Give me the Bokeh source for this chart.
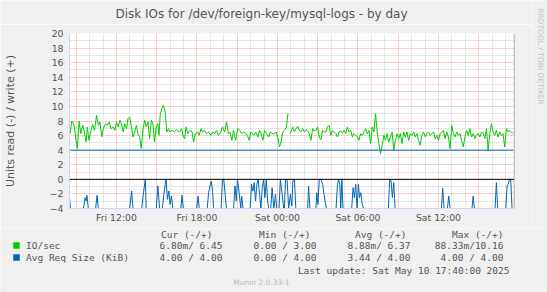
import numpy as np
import pandas as pd
from bokeh.plotting import figure
from bokeh.layouts import column, row
from bokeh.models import (ColumnDataSource, Range1d, FixedTicker, DatetimeTickFormatter,
                          Grid, Span, Label)
from bokeh.embed import file_html
from bokeh.resources import INLINE

# ------------------------------------------------------------------ data
TITLE = "Disk IOs for /dev/foreign-key/mysql-logs - by day"
Y_LABEL = "Units read (-) / write (+)"
GRAPH_START = "2025-05-09 08:30"
GRAPH_END = "2025-05-10 17:40"

x_tick_times = ["2025-05-09 12:00", "2025-05-09 18:00", "2025-05-10 00:00",
                "2025-05-10 06:00", "2025-05-10 12:00"]
y_ticks = [-4, -2, 0, 2, 4, 6, 8, 10, 12, 14, 16, 18, 20]

# IO/sec, write (+): first stretch, minutes after GRAPH_START
io_write_a_min = [3, 10, 21, 29, 35, 43, 50, 59, 65, 74, 80, 87, 95, 103, 112, 121, 129, 136,
                  144, 151, 161, 169, 178, 185, 195, 203, 210, 218, 225, 232, 240, 247, 255,
                  262, 269, 277, 284, 292, 299, 306, 314, 321, 329, 336, 343, 351, 358, 366,
                  373, 380, 388, 395, 400, 406, 413, 420, 428, 435, 443, 450, 459, 469, 477,
                  484, 492, 502, 509, 515, 521, 529, 539, 548, 555, 563, 573, 580, 588, 595,
                  604, 613, 622, 632, 640, 650, 657, 666, 677, 684, 694, 702, 711, 717, 726,
                  733, 743, 752, 761, 770, 780, 788, 795, 804, 810, 817, 825, 832, 843, 850,
                  857, 865, 872, 881, 891, 899, 906, 917, 924, 931, 939, 946, 954, 962, 970, 977]
io_write_a = [6.27, 8.00, 7.41, 5.35, 4.21, 8.00, 6.27, 7.41, 6.72, 5.12,
              7.18, 5.35, 6.50, 7.55, 6.72, 8.78, 7.41, 7.87, 5.81, 6.95,
              7.64, 7.41, 7.87, 6.95, 7.18, 6.72, 7.87, 7.18, 8.10, 7.64,
              6.50, 7.64, 6.95, 8.33, 8.55, 7.18, 5.81, 6.50, 7.41, 6.27,
              5.81, 4.21, 6.95, 8.10, 7.18, 7.87, 5.58, 8.10, 7.64, 5.12,
              7.18, 7.64, 6.04, 9.01, 9.70, 10.15, 9.24, 6.50, 6.95, 6.50,
              6.72, 6.50, 6.82, 6.63, 6.50, 6.95, 5.81, 5.58, 7.18, 6.27,
              6.72, 6.50, 5.12, 6.27, 6.50, 6.04, 6.95, 6.50, 6.72, 6.27,
              6.50, 6.04, 6.50, 6.27, 6.72, 6.04, 6.50, 7.18, 6.50, 7.87,
              6.27, 6.50, 5.35, 6.72, 5.35, 6.95, 6.72, 6.27, 6.50, 6.27,
              6.04, 5.35, 6.50, 6.27, 6.04, 6.50, 5.81, 6.72, 6.27, 5.35,
              6.72, 6.27, 5.81, 6.50, 6.27, 6.27, 6.50, 5.81, 4.44, 5.12,
              6.50, 6.72, 7.18, 9.01]
# IO/sec, write (+): second stretch, evenly sampled
io_write_b_span = ("2025-05-10 00:53:30", "2025-05-10 17:33:10")
io_write_b = [6.27, 6.50, 7.18, 6.50, 6.95, 7.27, 6.72, 6.50, 6.95, 6.50,
              6.82, 6.63, 6.27, 5.35, 6.95, 6.63, 6.72, 7.18, 5.81, 5.44,
              6.72, 6.50, 6.50, 7.18, 7.41, 6.04, 6.72, 6.50, 6.27, 5.81,
              6.50, 6.63, 6.36, 6.72, 6.27, 7.18, 6.50, 6.72, 5.81, 6.27,
              6.04, 5.81, 5.35, 6.27, 6.04, 6.50, 6.95, 6.27, 6.72, 4.90,
              7.18, 6.50, 9.01, 6.50, 4.90, 3.52, 4.67, 6.04, 5.35, 6.27,
              5.12, 5.81, 6.50, 3.98, 5.35, 6.27, 5.58, 6.27, 4.90, 6.50,
              5.81, 6.50, 5.35, 6.27, 6.04, 6.50, 5.81, 6.27, 5.35, 4.67,
              6.04, 6.50, 5.81, 6.27, 6.50, 6.04, 6.27, 6.50, 5.58, 6.04,
              5.35, 6.27, 6.50, 6.72, 5.58, 6.50, 5.81, 4.21, 7.41, 6.27,
              5.81, 6.50, 6.04, 6.27, 5.35, 4.44, 5.81, 6.72, 6.04, 6.95,
              5.81, 6.27, 5.58, 6.04, 6.27, 5.81, 6.50, 6.27, 5.58, 6.95,
              3.98, 6.27, 7.64, 6.50, 6.04, 6.72, 5.81, 6.50, 6.04, 6.27,
              4.44, 6.95, 6.50, 6.72, 6.50, 6.27]

# Avg request size, write (+): flat
req_write_times = ["2025-05-09 08:33", "2025-05-10 17:34"]
req_write = [4.00, 4.00]

# Avg request size, read (-): minutes after GRAPH_START, KiB
req_read_min = [0, 4, 62, 70, 74, 78, 84, 117, 123, 129, 269, 278, 284,
                323, 329, 335, 339, 343, 388, 395, 403,
                415, 422, 428, 432, 438, 444, 450, 456, 462, 498, 503, 509,
                569, 575, 580, 616, 622, 628, 634, 640, 644,
                678, 684, 690, 696, 702, 734, 740, 746, 751, 758, 766, 770, 776,
                808, 814, 820, 826, 832, 838, 844, 850, 856, 862, 868, 874, 880, 886, 891,
                900, 906, 914, 921, 927, 937, 943, 951, 958, 961, 966, 973, 980,
                988, 994, 999, 1006, 1012, 1065, 1069, 1075,
                1102, 1106, 1111, 1117, 1124, 1132, 1138, 1143, 1149,
                1192, 1198, 1203, 1209, 1213, 1218, 1223,
                1262, 1268, 1274, 1280, 1286, 1292, 1297, 1303, 1309, 1315,
                1426, 1432, 1438, 1444, 1450, 1456, 1663, 1669, 1675,
                1690, 1696, 1702, 1800, 1805, 1811, 1903, 1909, 1915,
                1951, 1957, 1962, 1967, 1973, 1979, 1983]
req_read = [2.50, 4.00, 4.00, 2.51, 2.97, 2.19, 4.00, 4.00, 2.19, 4.00, 4.00, 1.60, 4.00,
            4.00, 2.29, 0.91, 0.00, 4.00, 4.00, 0.91, 4.00,
            4.00, 2.06, 0.69, 0.00, 2.74, 1.60, 3.43, 2.29, 4.00, 4.00, 2.15, 4.00,
            4.00, 2.29, 4.00, 4.00, 1.83, 0.91, 0.23, 1.60, 4.00,
            4.00, 0.00, 0.00, 2.06, 4.00, 4.00, 0.91, 2.97, 0.00, 1.60, 4.00, 2.29, 4.00,
            4.00, 0.69, 1.60, 0.46, 2.97, 0.69, 0.00, 2.06, 4.00, 1.14, 0.00, 2.51, 0.00, 2.97, 4.00,
            4.00, 1.14, 4.00, 2.06, 4.00, 4.00, 0.00, 2.06, 4.00, 4.00, 0.00, 0.00, 4.00,
            2.06, 3.66, 0.23, 0.00, 4.00, 4.00, 0.91, 4.00,
            4.00, 1.83, 3.43, 0.00, 0.00, 0.69, 2.06, 2.97, 4.00,
            4.00, 0.91, 0.00, 0.69, 4.00, 0.00, 4.00,
            4.00, 1.14, 2.51, 0.69, 4.00, 0.69, 2.51, 1.83, 3.43, 4.00,
            4.00, 0.00, 0.23, 2.51, 0.46, 4.00, 4.00, 1.23, 4.00,
            4.00, 2.29, 4.00, 4.00, 2.29, 4.00, 4.00, 0.46, 4.00,
            4.00, 0.91, 0.69, 0.00, 0.00, 4.00, 4.00]

legend_cols = ["Cur (-/+)", "Min (-/+)", "Avg (-/+)", "Max (-/+)"]
legend_rows = ["IO/sec", "Avg Req Size (KiB)"]
legend_colors = ["#00cc00", "#0066b3"]
legend_values = [["6.80m/ 6.45", "0.00 / 3.00", "8.88m/ 6.37", "88.33m/10.16"],
                 ["4.00 / 4.00", "0.00 / 4.00", "3.44 / 4.00", "4.00 / 4.00"]]
LAST_UPDATE = "Last update: Sat May 10 17:40:00 2025"
FOOTER = "Munin 2.0.33-1"
WATERMARK = "RRDTOOL / TOBI OETIKER"

# ------------------------------------------------------------------ layout
W = 547
SIDE_W = 15                  # watermark column at the right
MAIN_W = W - SIDE_W
TOP_H, MAIN_H, LEG_H = 24, 204, 64
FL, FR, FT, FB = 66, MAIN_W - 514, 33 - TOP_H, 20
TXT = "#555555"
AXIS_C = "#CFD6F8"
BG = "#f0f0f0"
MONO = "DejaVu Sans Mono"


def ms(t):
    return pd.Timestamp(t).value / 1e6


def strip(width, height, x0, y0):
    """A plain text strip whose data units are page pixels."""
    f = figure(width=width, height=height, output_backend="svg", toolbar_location=None,
               x_range=Range1d(x0, x0 + width), y_range=Range1d(y0 + height, y0),
               min_border=0, x_axis_location=None, y_axis_location=None,
               background_fill_color=BG, border_fill_color=BG, outline_line_color=None,
               frame_align=False)
    f.xgrid.visible = False
    f.ygrid.visible = False
    return f


def text_at(fig, px, py, text, size, color=TXT, font=MONO, align="left", angle=0.0):
    fig.add_layout(Label(x=px, y=py, text=text, text_font=font, text_font_size=f"{size}px",
                         text_color=color, text_align=align, text_baseline="middle",
                         angle=angle))


t_start, t_end = pd.Timestamp(GRAPH_START), pd.Timestamp(GRAPH_END)

# ---- title strip
top = strip(MAIN_W, TOP_H, 0, 0)
text_at(top, 261, 13.5, TITLE, 12, font="DejaVu Sans", align="center")

# ---- main chart
p = figure(width=MAIN_W, height=MAIN_H, output_backend="svg", toolbar_location=None,
           x_axis_type="datetime",
           x_range=Range1d(t_start, t_end), y_range=Range1d(-4, 20),
           min_border_left=FL, min_border_right=FR, min_border_top=FT, min_border_bottom=FB,
           background_fill_color="white", border_fill_color=BG,
           outline_line_color=None, frame_align=False)
p.xgrid.visible = False
p.ygrid.visible = False

hours = pd.date_range("2025-05-09 09:00", "2025-05-10 17:00", freq="1h")
minor_x = [ms(t) for t in hours if t.hour % 3 != 0]
major_x = [ms(t) for t in hours if t.hour % 3 == 0]
minor_y = [v for v in range(-3, 20) if v % 2 != 0]
major_y = list(y_ticks)
for dim, ticks, col in [(0, minor_x, "#cfcfcf"), (1, minor_y, "#cfcfcf"),
                        (0, major_x, "#f0a0a0"), (1, major_y, "#f0a0a0")]:
    p.add_layout(Grid(dimension=dim, ticker=FixedTicker(ticks=ticks),
                      grid_line_color=col, grid_line_dash="1 1", grid_line_width=1))

fmt = "%a %H:%M"
p.xaxis.ticker = FixedTicker(ticks=[ms(t) for t in x_tick_times])
p.xaxis.formatter = DatetimeTickFormatter(microseconds=fmt, milliseconds=fmt, seconds=fmt,
                                          minsec=fmt, minutes=fmt, hourmin=fmt, hours=fmt,
                                          days=fmt, months=fmt, years=fmt)
p.yaxis.ticker = FixedTicker(ticks=y_ticks)
for ax in (p.xaxis[0], p.yaxis[0]):
    ax.axis_line_color = AXIS_C
    ax.major_tick_in = 0
    ax.major_tick_out = 0
    ax.minor_tick_in = 0
    ax.minor_tick_out = 0
    ax.major_label_text_font = "DejaVu Sans"
    ax.major_label_text_font_size = "9.3px"
    ax.major_label_text_color = TXT
p.xaxis.major_label_standoff = 3
p.yaxis.major_label_standoff = 6
p.yaxis.axis_label = Y_LABEL
p.yaxis.axis_label_text_font = "DejaVu Sans"
p.yaxis.axis_label_text_font_size = "11px"
p.yaxis.axis_label_text_font_style = "normal"
p.yaxis.axis_label_text_color = TXT
p.yaxis.axis_label_standoff = 30

src_a = ColumnDataSource(dict(t=t_start + pd.to_timedelta(io_write_a_min, unit="min"), v=io_write_a))
src_b = ColumnDataSource(dict(t=pd.date_range(*io_write_b_span, periods=len(io_write_b)), v=io_write_b))
p.line("t", "v", source=src_a, line_color="#00cc00", line_width=1)
p.line("t", "v", source=src_b, line_color="#00cc00", line_width=1)

src_rw = ColumnDataSource(dict(t=pd.to_datetime(req_write_times), v=req_write))
p.line("t", "v", source=src_rw, line_color="#0066b3", line_width=1)

src_rr = ColumnDataSource(dict(t=t_start + pd.to_timedelta(req_read_min, unit="min"),
                               v=-np.array(req_read)))
p.line("t", "v", source=src_rr, line_color="#0066b3", line_width=1)

p.add_layout(Span(location=0, dimension="width", line_color="black", line_width=1))
p.add_layout(Span(location=ms(t_end), dimension="height", line_color="#8c8c8c", line_width=1.5))

# ---- watermark column
wm = strip(SIDE_W, TOP_H + MAIN_H, MAIN_W, 0)
text_at(wm, 539.5, 56, WATERMARK, 7.5, color="#c4c4c4", font="DejaVu Sans",
        align="center", angle=-np.pi / 2)

# ---- legend strip
leg = strip(W, LEG_H, 0, 0)
header_right = [212, 310, 406, 503]
value_right = [222, 316, 410, 503]
row_y = [17, 29]
for col, xr in zip(legend_cols, header_right):
    text_at(leg, xr, 6, col, 9.5, align="right")
for r, (name, colr, vals) in enumerate(zip(legend_rows, legend_colors, legend_values)):
    leg.quad(left=[13], right=[19], top=[row_y[r] - 3], bottom=[row_y[r] + 3],
             fill_color=colr, line_color=colr, line_width=0.5)
    text_at(leg, 25.5, row_y[r], name, 9.5)
    for v, xr in zip(vals, value_right):
        text_at(leg, xr, row_y[r], v, 9.5, align="right")
text_at(leg, 509, 42, LAST_UPDATE, 9.5, align="right")
text_at(leg, 261, 54, FOOTER, 7.5, color="#bbbbbb", font="DejaVu Sans", align="center")

page = column(row(column(top, p, spacing=0), wm, spacing=0), leg, spacing=0)
open("out.html", "w").write(file_html(page, INLINE))
